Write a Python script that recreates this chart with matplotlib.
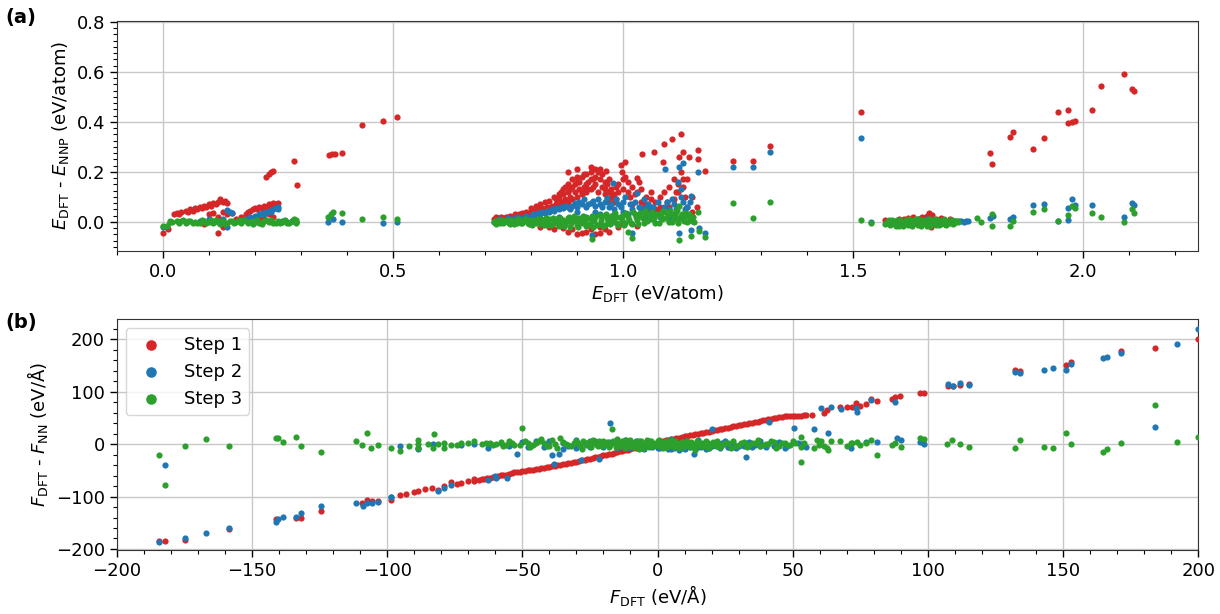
import matplotlib
matplotlib.use("Agg")
import matplotlib.pyplot as plt
from matplotlib.ticker import AutoMinorLocator, MultipleLocator

plt.rcParams['font.size'] = 13

# colours of the three training steps
c1, c2, c3 = '#d62728', '#1f77b4', '#2ca02c'
labels = ['Step 1', 'Step 2', 'Step 3']

# ---- panel (a): energy error vs E_DFT (eV/atom) ----
a_step1 = [
    (0.0, -0.045), (0.012, -0.03), (0.015, 0.0), (0.025, 0.03), (0.03, 0.035), (0.035, 0.03),
    (0.04, 0.04), (0.05, 0.045), (0.055, 0.04), (0.06, 0.05), (0.065, 0.045), (0.07, 0.055),
    (0.075, 0.05), (0.08, 0.06), (0.085, 0.055), (0.09, 0.065), (0.095, 0.06), (0.1, 0.07),
    (0.105, 0.065), (0.11, 0.075), (0.115, 0.07), (0.12, 0.08), (0.125, 0.09), (0.13, 0.078),
    (0.135, 0.085), (0.14, 0.075), (0.1, 0.03), (0.11, 0.035), (0.12, 0.02), (0.13, 0.04),
    (0.14, 0.03), (0.15, 0.035), (0.16, 0.01), (0.17, 0.005), (0.12, -0.045), (0.09, -0.01),
    (0.13, -0.02), (0.17, 0.02), (0.18, 0.03), (0.185, 0.04), (0.19, 0.045), (0.195, 0.05),
    (0.2, 0.055), (0.205, 0.05), (0.21, 0.06), (0.215, 0.055), (0.22, 0.065), (0.225, 0.06),
    (0.23, 0.07), (0.235, 0.065), (0.24, 0.075), (0.245, 0.07), (0.25, 0.075), (0.2, 0.02),
    (0.21, 0.015), (0.22, 0.01), (0.23, 0.03), (0.24, 0.02), (0.26, 0.0), (0.28, 0.005),
    (0.29, 0.0), (0.225, 0.18), (0.23, 0.19), (0.235, 0.2), (0.24, 0.205), (0.285, 0.244),
    (0.292, 0.148), (0.362, 0.268), (0.368, 0.272), (0.374, 0.27), (0.39, 0.274),
    (0.433, 0.388), (0.478, 0.404), (0.508, 0.42),
    (0.72, 0.01), (0.725, 0.02), (0.73, 0.015), (0.735, 0.02), (0.74, 0.015), (0.745, 0.02),
    (0.75, 0.02), (0.755, 0.025), (0.76, 0.02), (0.765, 0.03), (0.77, 0.025), (0.775, 0.03),
    (0.78, 0.035), (0.785, 0.03), (0.79, 0.04), (0.795, 0.035), (0.8, 0.04), (0.805, 0.045),
    (0.81, 0.04), (0.815, 0.05), (0.82, 0.045), (0.825, 0.055), (0.83, 0.05), (0.835, 0.06),
    (0.84, 0.055), (0.845, 0.065), (0.85, 0.06), (0.855, 0.07), (0.86, 0.065), (0.865, 0.08),
    (0.87, 0.07), (0.875, 0.09), (0.88, 0.08), (0.885, 0.1), (0.89, 0.09), (0.895, 0.12),
    (0.9, 0.1), (0.905, 0.13), (0.91, 0.11), (0.915, 0.14), (0.92, 0.12), (0.925, 0.16),
    (0.93, 0.13), (0.935, 0.17), (0.94, 0.15), (0.945, 0.2), (0.95, 0.21), (0.963, 0.204),
    (0.955, 0.14), (0.96, 0.11), (0.965, 0.09), (0.97, 0.12), (0.975, 0.1), (0.98, 0.08),
    (0.985, 0.14), (0.99, 0.15), (0.995, 0.228), (1.004, 0.239), (0.998, 0.2), (1.0, 0.17),
    (1.005, 0.18), (1.01, 0.12), (1.015, 0.1), (1.02, 0.07), (1.025, 0.11), (1.03, 0.175),
    (1.035, 0.16), (1.04, 0.08), (1.045, 0.06), (1.05, 0.07), (1.055, 0.05), (1.06, 0.09),
    (1.041, 0.273), (1.067, 0.279), (1.07, 0.05), (1.075, 0.04), (1.08, 0.06), (1.087, 0.238),
    (1.089, 0.31), (1.095, 0.08), (1.1, 0.06), (1.107, 0.33), (1.11, 0.09), (1.115, 0.12),
    (1.12, 0.15), (1.122, 0.26), (1.126, 0.352), (1.13, 0.279), (1.125, 0.2), (1.13, 0.17),
    (1.135, 0.1), (1.14, 0.06), (1.144, 0.258), (1.15, 0.04), (1.163, 0.288), (1.163, 0.25),
    (1.178, 0.204), (1.24, 0.244), (1.283, 0.244), (1.32, 0.305),
    (0.86, 0.11), (0.87, 0.13), (0.88, 0.15), (0.89, 0.14), (0.9, 0.16), (0.91, 0.18),
    (0.92, 0.19), (0.93, 0.2), (0.88, 0.2), (0.9, 0.21), (0.93, 0.22), (0.94, 0.18),
    (0.96, 0.16), (0.97, 0.17), (0.82, -0.02), (0.85, -0.03), (0.88, -0.04), (0.9, -0.05),
    (0.92, -0.04), (0.94, -0.05), (0.96, -0.03), (0.8, -0.01), (0.86, -0.01), (0.95, -0.02),
    (1.0, -0.01),
    (0.8, 0.055), (0.81, 0.065), (0.82, 0.07), (0.83, 0.08), (0.84, 0.085), (0.85, 0.1),
    (0.855, 0.09), (0.86, 0.095), (0.865, 0.12), (0.87, 0.11), (0.875, 0.14), (0.88, 0.12),
    (0.885, 0.13), (0.89, 0.17), (0.895, 0.15), (0.9, 0.18), (0.905, 0.16), (0.91, 0.12),
    (0.915, 0.19), (0.92, 0.15), (0.925, 0.13), (0.93, 0.17), (0.935, 0.14), (0.94, 0.21),
    (0.945, 0.12), (0.95, 0.17), (0.955, 0.19), (0.96, 0.13), (0.965, 0.15), (0.97, 0.08),
    (0.975, 0.13), (0.98, 0.11), (0.985, 0.09), (0.99, 0.12), (1.0, 0.13), (1.01, 0.16),
    (1.02, 0.14), (1.03, 0.12), (1.04, 0.13), (1.05, 0.1), (1.06, 0.12), (1.07, 0.08),
    (1.08, 0.1), (1.09, 0.12), (1.1, 0.14), (1.11, 0.17), (1.12, 0.12), (1.13, 0.14),
    (1.14, 0.17), (1.15, 0.1), (1.16, 0.06), (0.84, -0.02), (0.87, -0.025), (0.89, -0.03),
    (0.91, -0.045), (0.93, -0.03), (0.95, -0.045), (0.97, -0.04), (0.99, -0.02),
    (1.03, -0.015), (0.76, 0.0), (0.78, 0.005), (0.74, 0.0),
    (1.517, 0.441), (1.58, 0.005), (1.6, 0.01), (1.62, 0.015), (1.64, 0.012), (1.65, 0.02),
    (1.665, 0.035), (1.672, 0.028), (1.68, 0.01), (1.69, 0.005), (1.7, -0.01), (1.59, 0.0),
    (1.67, -0.02), (1.57, 0.008), (1.61, 0.012), (1.63, 0.018), (1.655, 0.015), (1.66, 0.022),
    (1.69, 0.015), (1.71, 0.012),
    (1.798, 0.276), (1.801, 0.233), (1.84, 0.341), (1.848, 0.359),
    (1.891, 0.29), (1.914, 0.337), (1.945, 0.439), (1.966, 0.448), (1.966, 0.395),
    (1.975, 0.401), (1.983, 0.405), (2.02, 0.449), (2.038, 0.543), (2.088, 0.593),
    (2.105, 0.532), (2.11, 0.525),
]
a_step2 = [
    (0.0, -0.02), (0.01, -0.015), (0.14, 0.048), (0.145, 0.04), (0.15, 0.035), (0.14, -0.02),
    (0.12, 0.0), (0.13, 0.01), (0.18, 0.01), (0.19, 0.02), (0.2, 0.025), (0.21, 0.03),
    (0.215, 0.035), (0.22, 0.03), (0.225, 0.04), (0.23, 0.045), (0.235, 0.04), (0.24, 0.05),
    (0.245, 0.055), (0.25, 0.05), (0.25, 0.06), (0.2, 0.0), (0.26, 0.005), (0.27, 0.0),
    (0.28, 0.002), (0.29, 0.0), (0.36, 0.0), (0.37, 0.01), (0.39, 0.0), (0.478, -0.005),
    (0.508, 0.0), (0.08, 0.005), (0.1, 0.01),
    (0.72, 0.0), (0.74, 0.005), (0.76, 0.01), (0.78, 0.015), (0.8, 0.02), (0.81, 0.025),
    (0.82, 0.03), (0.83, 0.035), (0.84, 0.04), (0.85, 0.045), (0.86, 0.05), (0.87, 0.055),
    (0.88, 0.06), (0.885, 0.05), (0.89, 0.065), (0.9, 0.06), (0.91, 0.07), (0.92, 0.06),
    (0.93, 0.075), (0.94, 0.065), (0.95, 0.07), (0.96, 0.08), (0.97, 0.06), (0.978, 0.157),
    (0.98, 0.05), (0.99, 0.07), (1.0, 0.04), (1.01, 0.03), (1.03, 0.117), (1.04, 0.05),
    (1.05, 0.06), (1.06, 0.04), (1.07, 0.03), (1.08, 0.02), (1.09, 0.06), (1.091, 0.213),
    (1.1, 0.05), (1.107, 0.09), (1.11, 0.07), (1.12, 0.16), (1.122, 0.22), (1.13, 0.236),
    (1.125, 0.1), (1.13, 0.08), (1.14, 0.06), (1.148, 0.105), (1.163, 0.2), (0.933, -0.052),
    (1.02, -0.045), (1.122, -0.045), (1.148, -0.032), (1.165, -0.023), (1.178, -0.043),
    (1.24, 0.22), (1.283, 0.22), (1.32, 0.278), (0.92, 0.02), (0.95, 0.03), (1.0, 0.08),
    (1.05, 0.02),
    (0.73, 0.01), (0.75, 0.015), (0.77, 0.02), (0.79, 0.025), (0.805, 0.03), (0.815, 0.035),
    (0.825, 0.04), (0.835, 0.045), (0.845, 0.05), (0.855, 0.055), (0.865, 0.06), (0.875, 0.065),
    (0.895, 0.075), (0.905, 0.08), (0.915, 0.09), (0.925, 0.07), (0.935, 0.085), (0.945, 0.09),
    (0.955, 0.06), (0.965, 0.095), (0.975, 0.07), (0.985, 0.09), (0.995, 0.06), (1.005, 0.1),
    (1.015, 0.07), (1.025, 0.08), (1.035, 0.06), (1.045, 0.09), (1.055, 0.07), (1.065, 0.06),
    (1.075, 0.08), (1.085, 0.04), (1.095, 0.08), (1.105, 0.03), (1.115, 0.05), (1.125, 0.13),
    (1.135, 0.05), (1.145, 0.08), (0.82, 0.015), (0.86, 0.02), (0.9, 0.04), (0.94, 0.04),
    (0.98, 0.03), (1.02, 0.05), (1.06, 0.06), (1.1, 0.02), (1.14, 0.03),
    (1.517, 0.337), (1.539, 0.0), (1.58, -0.005), (1.6, 0.005), (1.62, 0.008), (1.64, 0.01),
    (1.66, 0.012), (1.68, 0.008), (1.7, 0.005), (1.72, 0.003), (1.73, 0.004), (1.745, 0.002),
    (1.735, 0.005), (1.74, 0.0), (1.75, 0.004),
    (1.798, 0.015), (1.805, 0.024), (1.84, 0.012), (1.848, 0.02), (1.891, 0.068),
    (1.914, 0.071), (1.945, 0.005), (1.966, 0.057), (1.966, 0.008), (1.976, 0.092),
    (1.983, 0.068), (2.02, 0.068), (2.088, 0.021), (2.105, 0.077), (2.11, 0.069),
]
a_step3 = [
    (0.0, -0.015), (0.01, -0.015), (0.02, 0.0), (0.03, 0.005), (0.04, 0.002), (0.05, -0.003),
    (0.06, 0.003), (0.07, 0.0), (0.08, -0.004), (0.09, 0.004), (0.1, 0.0), (0.11, -0.005),
    (0.12, 0.005), (0.125, -0.01), (0.13, 0.002), (0.14, -0.003), (0.15, 0.004), (0.16, 0.0),
    (0.17, -0.004), (0.18, 0.003), (0.19, -0.002), (0.2, 0.005), (0.21, -0.003), (0.22, 0.004),
    (0.23, 0.0), (0.24, -0.004), (0.25, 0.003), (0.26, 0.0), (0.27, -0.003), (0.28, 0.002),
    (0.285, 0.01), (0.29, -0.004), (0.045, 0.006), (0.075, -0.006), (0.105, 0.007),
    (0.135, -0.007), (0.165, 0.006), (0.195, -0.007), (0.225, 0.008), (0.255, -0.006),
    (0.015, 0.003), (0.035, -0.004), (0.055, 0.005), (0.065, -0.005), (0.085, 0.006),
    (0.095, -0.006), (0.115, 0.006), (0.145, 0.005), (0.155, -0.006), (0.175, 0.007),
    (0.185, -0.006), (0.205, 0.008), (0.215, -0.008), (0.235, 0.006), (0.245, -0.006),
    (0.265, 0.006), (0.275, -0.006), (0.29, 0.008),
    (0.36, 0.02), (0.365, 0.03), (0.37, 0.04), (0.39, 0.035), (0.433, 0.012), (0.478, 0.018),
    (0.508, 0.013),
    (0.72, 0.0), (0.725, -0.008), (0.73, 0.006), (0.74, -0.005), (0.75, 0.004), (0.755, -0.01),
    (0.76, 0.003), (0.77, -0.006), (0.775, 0.008), (0.78, -0.004), (0.79, 0.005), (0.795, -0.01),
    (0.8, 0.006), (0.81, -0.006), (0.815, 0.01), (0.82, -0.008), (0.83, 0.006), (0.835, -0.012),
    (0.84, 0.01), (0.85, -0.005), (0.855, 0.012), (0.86, -0.015), (0.87, 0.008), (0.875, -0.01),
    (0.88, 0.014), (0.885, -0.02), (0.89, 0.006), (0.9, -0.012), (0.905, 0.015), (0.91, -0.006),
    (0.915, 0.018), (0.92, -0.015), (0.93, 0.012), (0.935, -0.02), (0.94, 0.02), (0.95, -0.008),
    (0.955, 0.022), (0.96, -0.014), (0.965, 0.015), (0.97, -0.006), (0.975, 0.025), (0.98, 0.0),
    (0.985, 0.018), (0.99, -0.012), (1.0, 0.028), (1.005, -0.004), (1.01, 0.02), (1.02, -0.01),
    (1.025, 0.03), (1.03, 0.008), (1.04, 0.025), (1.045, -0.006), (1.05, 0.035), (1.06, 0.01),
    (1.065, 0.028), (1.07, -0.004), (1.08, 0.032), (1.085, 0.01), (1.09, 0.038), (1.1, 0.0),
    (1.105, 0.03), (1.11, 0.012), (1.115, 0.04), (1.12, -0.006), (1.125, 0.025), (1.13, 0.01),
    (1.135, 0.035), (1.14, 0.0), (1.145, 0.015), (1.15, 0.005),
    (0.7225, 0.004), (0.7275, -0.002), (0.7325, -0.006), (0.7375, 0.007), (0.7425, -0.002),
    (0.7475, 0.008), (0.7525, -0.004), (0.7575, 0.006), (0.7625, -0.008), (0.7675, 0.002),
    (0.7725, 0.01), (0.7775, -0.006), (0.7825, 0.003), (0.7875, 0.011), (0.7925, -0.004),
    (0.7975, 0.009), (0.8025, -0.012), (0.8075, 0.002), (0.8125, 0.012), (0.8175, -0.002),
    (0.8225, 0.01), (0.8275, -0.012), (0.8325, 0.015), (0.8375, 0.0), (0.8425, -0.014),
    (0.8475, 0.014), (0.8525, 0.0), (0.8575, -0.006), (0.8625, 0.016), (0.8675, 0.002),
    (0.8725, -0.016), (0.8775, 0.004), (0.8825, 0.018), (0.8875, -0.006), (0.8925, 0.022),
    (0.8975, 0.002), (0.9025, -0.02), (0.9075, 0.006), (0.9125, 0.024), (0.9175, -0.002),
    (0.9225, 0.014), (0.9275, -0.01), (0.9325, 0.024), (0.9375, 0.002), (0.9425, -0.012),
    (0.9475, 0.026), (0.9525, 0.008), (0.9575, -0.018), (0.9625, 0.03), (0.9675, 0.004),
    (0.9725, -0.01), (0.9775, 0.012), (0.9825, 0.034), (0.9875, -0.004), (0.9925, 0.02),
    (0.9975, 0.008), (1.0025, -0.014), (1.0075, 0.036), (1.0125, 0.006), (1.0175, -0.006),
    (1.0225, 0.04), (1.0275, 0.018), (1.0325, -0.008), (1.0375, 0.034), (1.0425, 0.014),
    (1.0475, 0.044), (1.0525, 0.002), (1.0575, 0.022), (1.0625, 0.04), (1.0675, 0.014),
    (1.0725, 0.03), (1.0775, -0.004), (1.0825, 0.02), (1.0875, 0.045), (1.0925, 0.015),
    (1.0975, 0.028), (1.1025, 0.045), (1.1075, -0.002), (1.1125, 0.025), (1.1175, 0.048),
    (1.1225, 0.015), (1.1275, 0.03), (1.1325, 0.005), (1.1375, 0.022), (1.1425, 0.03),
    (1.1475, 0.012), (1.1525, 0.02), (1.155, 0.0),
    (0.933, -0.07), (1.02, -0.063), (1.01, -0.04), (1.122, -0.074), (1.148, -0.058),
    (1.165, -0.038), (1.178, -0.06), (1.163, 0.04), (1.122, 0.063), (1.24, 0.074),
    (1.283, 0.017), (1.32, 0.079),
    (1.517, 0.007), (1.539, -0.006), (1.57, -0.01), (1.575, 0.004), (1.58, -0.014), (1.585, 0.006),
    (1.59, -0.008), (1.595, 0.008), (1.6, -0.015), (1.605, 0.002), (1.61, -0.01), (1.615, 0.007),
    (1.62, -0.012), (1.625, 0.004), (1.63, -0.008), (1.635, 0.01), (1.64, -0.014), (1.645, 0.005),
    (1.65, -0.01), (1.655, 0.008), (1.66, -0.016), (1.665, 0.012), (1.67, -0.006), (1.675, 0.01),
    (1.68, -0.012), (1.685, 0.006), (1.69, -0.008), (1.695, 0.008), (1.7, -0.01), (1.705, 0.004),
    (1.71, -0.006), (1.715, 0.006), (1.72, -0.004), (1.725, 0.002),
    (1.5725, -0.004), (1.5775, 0.008), (1.5825, -0.01), (1.5875, 0.002), (1.5925, -0.016),
    (1.5975, 0.0), (1.6025, 0.008), (1.6075, -0.016), (1.6125, 0.0), (1.6175, -0.006),
    (1.6225, 0.01), (1.6275, -0.016), (1.6325, 0.0), (1.6375, -0.006), (1.6425, 0.01),
    (1.6475, -0.016), (1.6525, 0.0), (1.6575, -0.006), (1.6625, 0.004), (1.6675, -0.018),
    (1.6725, 0.0), (1.6775, 0.008), (1.6825, -0.004), (1.6875, -0.014), (1.6925, 0.002),
    (1.6975, 0.01), (1.7025, -0.014), (1.7075, 0.0), (1.7125, 0.008), (1.7175, -0.008),
    (1.7225, 0.004), (1.728, 0.0),
    (1.77, 0.015), (1.777, 0.001), (1.801, 0.033), (1.801, -0.016), (1.84, -0.016),
    (1.848, 0.004), (1.891, 0.039), (1.914, 0.05), (1.945, 0.003), (1.966, 0.027),
    (1.976, 0.065), (1.983, 0.057), (2.02, 0.035), (2.038, 0.019), (2.088, -0.001),
    (2.105, 0.053), (2.11, 0.035),
]

# ---- panel (b): force error vs F_DFT (eV/A) ----
b_step1 = [
    (-184.2, -184.6), (-182.3, -184.6), (-174.9, -182.7), (-158.6, -162), (-141, -143),
    (-133.7, -141), (-131.7, -140), (-124.3, -127), (-109.3, -113), (-107.4, -107),
    (-105.6, -109), (-103.4, -108), (-98.4, -107), (-95.1, -97), (-88.6, -90),
    (-83.4, -83.3), (-81.3, -87), (-76.3, -72.5), (-72.5, -75), (-70, -70.5), (-67.9, -67),
    (-93, -95), (-90, -92), (-86, -86), (-79, -80), (-74, -76), (-68, -70), (-66, -68),
    (-65, -67), (-63, -65), (-61, -63), (-59, -60), (-57, -58.5), (-55, -57), (-53, -54),
    (-51, -52.5), (-49, -51), (-47, -49.5), (-45, -48), (-43, -46), (-41, -44), (-39, -42.5),
    (-37, -40.5), (-35, -38.5), (-33, -37), (-31, -34.5), (-29, -32.5), (-27, -30), (-25, -28),
    (-23, -25.5), (-21, -23), (-19, -20.5), (-17, -18), (-15, -15.5), (-13, -13), (-11, -10.5),
    (-9, -8), (-7, -6), (-5, -3.5), (-3, -1.5), (-1, 1), (1, 5), (3, 7), (5, 9), (7, 11.5),
    (9, 13.5), (11, 16), (13, 18), (15, 20), (17, 22), (19, 24), (21, 26), (23, 28.5),
    (25, 30.5), (27, 32.5), (29, 35), (31, 37), (33, 39), (35, 41), (37, 43), (39, 45),
    (41, 47), (43, 49), (45, 51), (47, 53), (49, 53.5), (51, 54), (53, 54.5), (55, 56),
    (-64, -66), (-62, -64), (-60, -62), (-58, -59.5), (-56, -58), (-54, -55.5), (-52, -53.5),
    (-50, -52), (-48, -50), (-46, -49), (-44, -47), (-42, -45), (-40, -43), (-38, -41.5),
    (-36, -39.5), (-34, -37.5), (-32, -35.5), (-30, -33.5), (-28, -31), (-26, -29),
    (-24, -26.5), (-22, -24), (-20, -21.5), (-18, -19), (-16, -17), (-14, -14), (-12, -11.5),
    (-10, -9), (-8, -7), (-6, -5), (-4, -2.5), (-2, 0), (0, 3), (2, 6), (4, 8), (6, 10.5),
    (8, 12.5), (10, 15), (12, 17), (14, 19), (16, 21), (18, 23), (20, 25), (22, 27),
    (24, 29.5), (26, 31.5), (28, 34), (30, 36), (32, 38), (34, 40), (36, 42), (38, 44),
    (40, 46), (42, 48), (44, 50), (46, 52), (48, 53), (50, 53.5), (52, 54), (54, 55),
    (57.2, 55.8), (61.5, 60), (62.8, 65.4), (67.5, 70.5), (70.2, 70.5), (72, 70.5),
    (73.3, 78), (74.8, 73), (77, 77), (78.8, 86), (81.2, 81.3), (86.8, 86), (88, 89.8),
    (89.7, 92), (97.1, 97.4), (98.6, 97.4), (107.6, 110), (109.3, 110), (111.9, 113.5),
    (115.2, 115.4), (132.2, 141), (134, 139), (151.2, 150), (153, 157), (171.6, 177.5),
    (184, 184), (200, 200),
]
b_step2 = [
    (-184.2, -185.9), (-182.3, -40.4), (-174.9, -179.5), (-167, -168.6), (-158.6, -160),
    (-141, -149.4), (-140.4, -143), (-138.5, -138.5), (-133.7, -139), (-131.7, -131),
    (-124.3, -118.6), (-111.5, -112.8), (-109.1, -118.6), (-107.4, -112), (-105.6, -112.8),
    (-103.4, -111), (-98.4, -101), (-95.1, -3.8), (-88.6, -8.3), (-88.7, -10.2), (-83, 0),
    (-72.5, -1.3), (-67.9, 1), (-62.6, -7), (-98.5, -101.3), (-81.3, -90), (-78.8, -83.3),
    (-76.3, -78.8), (-62.6, -68), (-59.7, -65), (-60, -61.5), (-55.7, -64),
    (-58, 2), (-55, -3), (-52, -18), (-50, 4), (-47, -2), (-45, 6), (-42, -5), (-39, -21),
    (-38.4, -38.5), (-36.5, -18), (-35, 3), (-33, -4), (-30, 8), (-28.3, -31), (-27, 2),
    (-25, -5), (-23, 6), (-21.8, -27.5), (-20, -2), (-17.5, 39.8), (-16, 4), (-14, -6),
    (-12, 3), (-10, -4), (-8, 5), (-6, -7), (-4, 2), (-2, -6), (0, 3), (1, -8), (3, -3),
    (5, -9), (7, 2), (9, -7), (11, -2), (13.5, -18), (15, -5), (17, 1), (19, -8), (20.2, 28.3),
    (22, -4), (24, 2), (26, -6), (28, 3), (30, -3), (32.6, -24.5), (34, 4), (36, -2),
    (38, 5), (41.2, 42.9), (43, -3), (45, 3), (47, -8), (50.4, 30), (52, 2),
    (-20, -6), (-15, -8), (-10, -7), (-5, -9), (0, -8), (2, -6), (4, -10), (6, -8), (8, -11),
    (10, -9), (12, -5), (14, -8), (16, -6), (18, -9), (20, -4), (23, -7), (26, -5), (29, -8),
    (32, -4), (35, -6), (38, -3), (40, -5), (-3, 5), (-7, 6), (-12, 8), (-18, 4), (-25, 6),
    (-30, -8), (-40, 5), (-48, -6), (-35, -10), (5, 9), (10, 6), (15, 8), (25, 5), (45, 4),
    (48, -4), (53, 1), (55, -5),
    (57.8, 28.3), (63, 21.7), (60.3, 68.6), (64, 70.5), (67.7, 66.7), (73.3, 68.6), (73.9, 62),
    (79, 83.3), (71.4, -8.3), (77, 4.5), (81.2, 4.5), (88, 79.4), (88.4, 11), (89.9, 7.7),
    (97.1, 4.5), (98.6, -0.6), (107.6, 114.7), (109.3, 111.5), (111.9, 116.7), (115.2, 113.5),
    (132.2, 137.8), (134, 136), (143, 141), (146.3, 145.5), (151.2, 142), (153, 152),
    (164.9, 164.8), (166.1, 166.7), (171.6, 174.4), (184, 33.3), (192.3, 191), (200, 219),
]
b_step3 = [
    (-184.2, -19.9), (-182.3, -78.8), (-174.9, -3.2), (-167, 9.6), (-158.6, -3.8),
    (-141, 12.2), (-140.4, 11), (-138.5, 4.5), (-133.7, 14), (-131.7, -3.2), (-124.3, -14.7),
    (-111.4, 6.4), (-109.2, -2.6), (-107.4, 20.5), (-105.8, -8.3), (-103.5, -2.6),
    (-98.5, -8.3), (-95.3, -12.8), (-88.7, 7.7), (-88.7, 0), (-88.7, -8), (-83, -8),
    (-82.8, 18.6), (-81.3, 0), (-78.8, -8), (-76.3, -2), (-72.5, 2.6), (-67.9, 5.8),
    (-63.6, 2.6), (-62, 2.6), (-59.9, 1), (-57, -4), (-55, 5), (-53, -2), (-50.1, 30),
    (-49, 6), (-47, -5), (-45, 3), (-43, 10), (-41, -3), (-39, 8), (-37, -8), (-36, 12),
    (-34, 1), (-32, -4), (-30, 6), (-28, -10), (-26, 3), (-24, 8), (-22, -3), (-20, 5),
    (-18, -6), (-17, 28), (-16, 2), (-15, 9), (-14, -4), (-13, 6), (-12, -8), (-11, 3),
    (-10, 7), (-9, -5), (-8, 2), (-7, -10), (-6, 5), (-5, -3), (-4, 8), (-3, -6), (-2, 3),
    (-1, -1), (0, 6), (0.5, -4), (1, 2), (2, -7), (3, 5), (4, -2), (5, 8), (6, -5), (7, 2),
    (8, -8), (9, 4), (10, -2), (11, 6), (12, -6), (13, 1), (14, -12), (15, 4), (16, -3),
    (18, 6), (19, -7), (20, 1), (22, 5), (23, -5), (25, 2), (27, -8), (28, 6), (30, -2),
    (32, 4), (33, -6), (35, 2), (37, 7), (38, -4), (40, 1), (42, 5), (44, -7), (46, 3),
    (48, -2), (50, 6), (52.9, 12.8), (52.9, -5), (52.9, -34), (54, 2),
    (-29.5, 2), (-28.5, -3), (-27.5, 5), (-26.5, -1), (-25.5, 4), (-24.5, -5), (-23.5, 2),
    (-22.5, -2), (-21.5, 6), (-20.5, -4), (-19.5, 1), (-18.5, 4), (-17.5, -2), (-16.5, 6),
    (-15.5, -5), (-14.5, 1), (-13.5, 4), (-12.5, -2), (-11.5, 7), (-10.5, -3), (-9.5, 2),
    (-8.5, -6), (-7.5, 5), (-6.5, 0), (-5.5, -7), (-4.5, 3), (-3.5, -2), (-2.5, 6),
    (-1.5, -4), (-0.5, 2), (0.5, 7), (1.5, -2), (2.5, 4), (3.5, -5), (4.5, 1), (5.5, -3),
    (6.5, 5), (7.5, -2), (8.5, 3), (9.5, -5), (10.5, 2), (11.5, -3), (12.5, 4), (13.5, -1),
    (14.5, 6), (15.5, -2), (16.5, 3), (17.5, -4), (18.5, 2), (19.5, -2), (20.5, 4),
    (21.5, -3), (22.5, 1), (24, -2), (26, 3), (29, -4), (31, 2), (34, -1), (36, 3), (39, -2),
    (41, 1), (43, 4), (45, -3), (47, 2), (49, -1), (51, 3), (-31, 2), (-33, -2), (-35, 4),
    (-38, 0), (-40, -3), (-42, 2), (-44, 5), (-46, -1), (-48, 2), (-51, -2), (-54, 2),
    (-56, -1), (-58, 4), (-61, -2), (-65, 0), (-70, 3), (-74, -2), (-79, 2), (-85, 1),
    (-92, -3),
    (57.8, -8.3), (58.8, 7.7), (59.7, -1.9), (60.3, 6.4), (61.5, -3.8), (62.8, -8.3),
    (63.1, -11.5), (64.3, 6.4), (67.5, 6.4), (70.2, -3.8), (71.4, 1.3), (72, 2.6),
    (73.6, 4.5), (74.8, -1.3), (77, 2.6), (78.8, 7.7), (81.2, -21), (86.8, -1.3), (88, 2.6),
    (89.9, -6.4), (97.1, 12.2), (98.6, 9.6), (107.2, 0), (109, 7.7), (111.9, 0), (115.2, -5),
    (132.2, -8.3), (134, 7.7), (143, -6.4), (146.3, -8.3), (151.2, 21.7), (153, -0.6),
    (164.9, -14.7), (166.1, -10), (171.6, 2.6), (184, 75), (192.3, 4.5), (200, 14),
]

fig = plt.figure(figsize=(12.2, 6.14), dpi=100)
ax1 = fig.add_axes([0.0957, 0.5917, 0.8865, 0.3746])
ax2 = fig.add_axes([0.0957, 0.1042, 0.8865, 0.3758])

for ax, data in [(ax1, [a_step1, a_step2, a_step3]), (ax2, [b_step1, b_step2, b_step3])]:
    for pts, col, lab in zip(data, [c1, c2, c3], labels):
        xs = [p[0] for p in pts]
        ys = [p[1] for p in pts]
        ax.scatter(xs, ys, s=20, color=col, linewidths=0, label=lab, zorder=3)
    ax.grid(True, color='#c8c8c8', linewidth=1)
    ax.set_axisbelow(True)
    ax.minorticks_on()
    ax.tick_params(axis='both', which='major', length=5, width=1)
    ax.tick_params(axis='both', which='minor', length=3, width=0.8)
    for sp in ax.spines.values():
        sp.set_color('#333333')

ax1.set_xlim(-0.1, 2.25)
ax1.set_ylim(-0.115, 0.805)
ax1.xaxis.set_major_locator(MultipleLocator(0.5))
ax1.yaxis.set_major_locator(MultipleLocator(0.2))
ax1.xaxis.set_minor_locator(AutoMinorLocator(5))
ax1.yaxis.set_minor_locator(AutoMinorLocator(8))
ax1.set_xlabel(r'$E_\mathrm{DFT}$ (eV/atom)', labelpad=2)
ax1.set_ylabel(r'$E_\mathrm{DFT}$ - $E_\mathrm{NNP}$ (eV/atom)')

ax2.set_xlim(-200, 200)
ax2.set_ylim(-202, 238)
ax2.xaxis.set_major_locator(MultipleLocator(50))
ax2.yaxis.set_major_locator(MultipleLocator(100))
ax2.xaxis.set_minor_locator(AutoMinorLocator(5))
ax2.yaxis.set_minor_locator(AutoMinorLocator(5))
ax2.set_xlabel(r'$F_\mathrm{DFT}$ (eV/Å)', labelpad=2)
ax2.set_ylabel(r'$F_\mathrm{DFT}$ - $F_\mathrm{NN}$ (eV/Å)')
ax2.legend(loc='upper left', markerscale=1.7, fontsize=13)

fig.text(0.004, 0.987, '(a)', fontweight='bold', fontsize=14, va='top')
fig.text(0.004, 0.49, '(b)', fontweight='bold', fontsize=14, va='top')

fig.savefig('out.png', dpi=100)
